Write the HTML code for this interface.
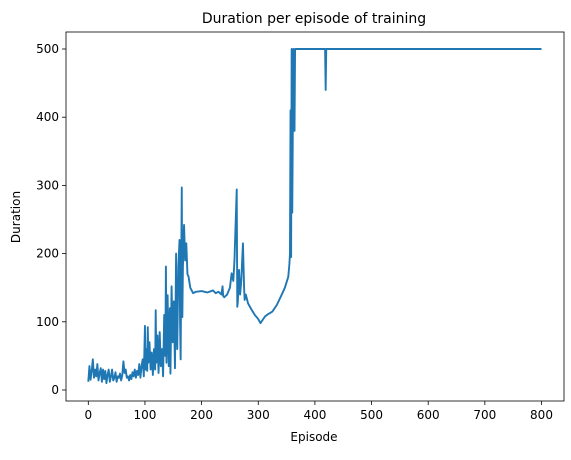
<!DOCTYPE html>
<html><head><meta charset="utf-8"><style>
body{margin:0;background:#fff;font-family:"Liberation Sans","DejaVu Sans",sans-serif}
svg text{font-family:"DejaVu Sans","Liberation Sans",sans-serif;font-size:12px;fill:#000}
</style></head><body>
<svg id="chart" width="571" height="455" viewBox="0 0 571 455" xmlns="http://www.w3.org/2000/svg">
<text x="314" y="23" text-anchor="middle" style="font-size:14px">Duration per episode of training</text>
<g id="plot"></g>
<text x="314" y="441" text-anchor="middle">Episode</text>
<text transform="translate(20,217) rotate(-90)" text-anchor="middle">Duration</text>
</svg>
<script>
const episodes=[0,2,4,6,8,10,12,14,16,18,20,22,24,26,28,30,32,34,36,38,40,42,44,46,48,50,52,54,56,58,60,62,64,66,68,70,72,74,76,78,80,82,84,86,88,90,92,94,96,98,100,101,102,104,105,106,108,110,112,114,116,118,119,120,122,124,126,128,130,132,134,136,137,138,140,142,144,145,147,149,151,153,155,156,157,159,161,162,163,165,166,167,169,171,173,175,177,180,185,190,200,210,220,225,230,235,237,238,240,245,250,253,256,258,260,262,263,264,266,268,270,273,275,276,278,282,288,294,300,304,308,312,317,325,333,341,347,353,355,356,357,358,359,360,362,364,365,366,418,419,420,800];
const durations=[12,35,15,28,45,18,30,20,38,14,25,32,12,30,16,28,10,22,30,12,20,30,14,18,26,12,20,18,24,14,22,42,25,30,18,20,14,22,16,26,20,30,18,28,22,38,18,35,45,20,94,30,60,28,92,40,70,30,55,22,60,30,117,40,80,25,85,35,60,20,110,50,181,40,139,35,120,24,152,70,130,32,200,90,60,180,220,100,45,297,107,180,242,190,215,170,166,150,142,144,145,143,146,142,144,140,152,138,136,140,150,171,160,190,242,294,122,130,176,140,160,215,150,132,140,127,118,110,104,98,103,108,111,115,125,139,150,166,185,200,410,195,500,260,500,380,500,500,500,440,500,500];
const xTicks=[0,100,200,300,400,500,600,700,800];
const yTicks=[0,100,200,300,400,500];
const L=66,R=564,T=32,B=401;
const xs=v=>88.3+v*0.5665;
const ys=v=>390-v*0.682;
const g=document.getElementById('plot');
const NS='http://www.w3.org/2000/svg';
function mk(t,a){const e=document.createElementNS(NS,t);for(const k in a)e.setAttribute(k,a[k]);g.appendChild(e);return e;}
let d='';
for(let i=0;i<episodes.length;i++){d+=(i?'L':'M')+xs(episodes[i]).toFixed(2)+' '+ys(durations[i]).toFixed(2);}
const line=mk('path',{d:d,fill:'none',stroke:'#1f77b4','stroke-width':1.9,'stroke-linejoin':'round'});


xTicks.forEach(t=>{
 const tk=mk('line',{x1:xs(t),x2:xs(t),y1:B,y2:B+4,stroke:'#000','stroke-width':0.8});
 
 
 const tx=mk('text',{x:xs(t),y:B+18,'text-anchor':'middle'});tx.textContent=t;
 
 
});
yTicks.forEach(t=>{
 const tk=mk('line',{x1:L-4,x2:L,y1:ys(t),y2:ys(t),stroke:'#000','stroke-width':0.8});
 
 
 const tx=mk('text',{x:L-7,y:ys(t)+4,'text-anchor':'end'});tx.textContent=t;
 
 
});
const fr=mk('rect',{x:L,y:T,width:R-L,height:B-T,fill:'none',stroke:'#000','stroke-width':0.8});


</script>
</body></html>
